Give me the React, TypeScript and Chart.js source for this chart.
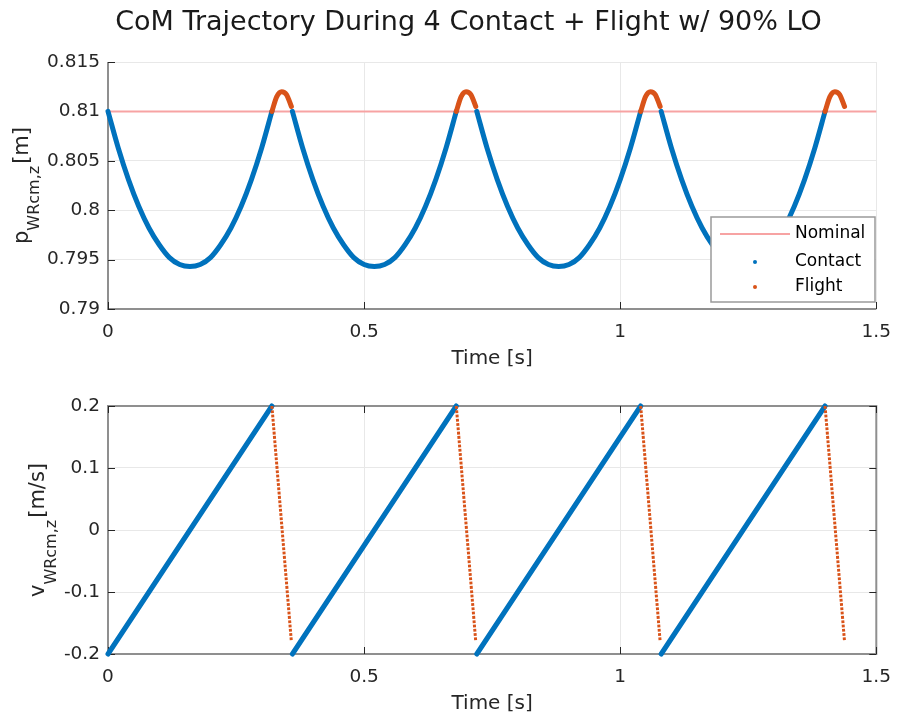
import React, { useEffect, useRef } from "react";
import { Chart, registerables } from "chart.js";

Chart.register(...registerables);

const FONT = "'DejaVu Sans', 'Liberation Sans', sans-serif";
const BLUE = "#0072BD";
const ORANGE = "#D95319";
const NOMINAL_C = "#f7a3a3";
const GRID = "#e8e8e8";
const AXIS = "#8f8f8f";
const TEXT = "#262626";

const TITLE = "CoM Trajectory During 4 Contact + Flight w/ 90% LO";
const X_LABEL = "Time [s]";
const LEGEND_LABELS = ["Nominal", "Contact", "Flight"];

// start time of each contact + flight cycle
const cycleStarts = [0, 0.36, 0.72, 1.08];

// position during contact (offsets from cycle start)
const contactOffsets = [0, 0.02, 0.04, 0.06, 0.08, 0.1, 0.12, 0.14, 0.16, 0.18, 0.2, 0.22, 0.24, 0.26, 0.28, 0.3, 0.32];
const contactPos = [0.81, 0.8063, 0.8031, 0.8004, 0.7982, 0.7965, 0.7952, 0.7945, 0.7943, 0.7945, 0.7952, 0.7965, 0.7982, 0.8004, 0.8031, 0.8063, 0.81];

// position during flight
const flightOffsets = [0.32, 0.3295, 0.339, 0.3485, 0.358];
const flightPos = [0.81, 0.8115, 0.812, 0.8117, 0.8105];

// velocity during contact / flight
const contactVelOffsets = [0, 0.32];
const contactVel = [-0.2, 0.2];
const flightVelOffsets = [0.32, 0.358];
const flightVel = [0.2, -0.18];

const nominalTimes = [0, 1.5];
const nominalPos = [0.81, 0.81];

const timeTicks = [0, 0.5, 1, 1.5];
const timeTickLabels = ["0", "0.5", "1", "1.5"];
const posTicks = [0.79, 0.795, 0.8, 0.805, 0.81, 0.815];
const posTickLabels = ["0.79", "0.795", "0.8", "0.805", "0.81", "0.815"];
const velTicks = [-0.2, -0.1, 0, 0.1, 0.2];
const velTickLabels = ["-0.2", "-0.1", "0", "0.1", "0.2"];

type YLab = { main: string; sub: string; unit: string; base: number; drop: number };

function pts(start: number, offs: number[], vals: number[]) {
  return offs.map((o, i) => ({ x: +(start + o).toFixed(5), y: vals[i] }));
}

function labelFor(ticks: number[], labels: string[]) {
  return (v: any) => {
    const i = ticks.findIndex((t) => Math.abs(t - Number(v)) < 1e-9);
    return i >= 0 ? labels[i] : "";
  };
}

function drawYLabel(ctx: CanvasRenderingContext2D, area: any, lab: YLab) {
  const cy = (area.top + area.bottom) / 2;
  const mainF = `21px ${FONT}`;
  const subF = `16px ${FONT}`;
  ctx.save();
  ctx.font = mainF;
  const w1 = ctx.measureText(lab.main).width;
  const w3 = ctx.measureText(lab.unit).width;
  ctx.font = subF;
  const w2 = ctx.measureText(lab.sub).width;
  const gap = 2;
  const W = w1 + w2 + gap + w3;
  ctx.translate(lab.base, cy);
  ctx.rotate(-Math.PI / 2);
  ctx.fillStyle = TEXT;
  ctx.textBaseline = "alphabetic";
  ctx.textAlign = "left";
  let u = -W / 2;
  ctx.font = mainF;
  ctx.fillText(lab.main, u, 0);
  u += w1;
  ctx.font = subF;
  ctx.fillText(lab.sub, u, lab.drop);
  u += w2 + gap;
  ctx.font = mainF;
  ctx.fillText(lab.unit, u, 0);
  ctx.restore();
}

function matlabPlugin(box: boolean, ylab: YLab, extra?: (chart: any) => void) {
  return {
    id: "matlabAxes",
    beforeDatasetsDraw(chart: any) {
      const { ctx, chartArea: a } = chart;
      const xs = chart.scales.x;
      const ys = chart.scales.y;
      ctx.save();
      ctx.strokeStyle = AXIS;
      ctx.lineWidth = 2;
      ctx.beginPath();
      if (box) {
        ctx.rect(a.left, a.top, a.right - a.left, a.bottom - a.top);
      } else {
        ctx.moveTo(a.left, a.top);
        ctx.lineTo(a.left, a.bottom);
        ctx.lineTo(a.right, a.bottom);
      }
      ctx.stroke();
      ctx.strokeStyle = TEXT;
      ctx.lineWidth = 1;
      ctx.beginPath();
      xs.ticks.forEach((t: any) => {
        const px = Math.round(xs.getPixelForValue(t.value)) + 0.5;
        ctx.moveTo(px, a.bottom);
        ctx.lineTo(px, a.bottom - 7);
        if (box) {
          ctx.moveTo(px, a.top);
          ctx.lineTo(px, a.top + 7);
        }
      });
      ys.ticks.forEach((t: any) => {
        const py = Math.round(ys.getPixelForValue(t.value)) + 0.5;
        ctx.moveTo(a.left, py);
        ctx.lineTo(a.left + 7, py);
        if (box) {
          ctx.moveTo(a.right, py);
          ctx.lineTo(a.right - 7, py);
        }
      });
      ctx.stroke();
      ctx.restore();
    },
    afterDraw(chart: any) {
      const { ctx, chartArea: a } = chart;
      ctx.save();
      ctx.font = `20px ${FONT}`;
      ctx.fillStyle = TEXT;
      ctx.textAlign = "center";
      ctx.textBaseline = "middle";
      ctx.fillText(X_LABEL, (a.left + a.right) / 2, a.bottom + 50);
      ctx.restore();
      drawYLabel(ctx, a, ylab);
      if (extra) extra(chart);
    },
  };
}

function drawTitleAndLegend(chart: any) {
  const ctx: CanvasRenderingContext2D = chart.ctx;
  ctx.save();
  ctx.font = `27px ${FONT}`;
  ctx.fillStyle = "#1a1a1a";
  ctx.textAlign = "center";
  ctx.textBaseline = "alphabetic";
  ctx.fillText(TITLE, 468.5, 30);

  // legend box
  const bx = 711, by = 217, bw = 164, bh = 85;
  ctx.fillStyle = "#ffffff";
  ctx.fillRect(bx, by, bw, bh);
  ctx.strokeStyle = "#9a9a9a";
  ctx.lineWidth = 1.5;
  ctx.strokeRect(bx, by, bw, bh);

  const rows = [234, 262, 287];
  ctx.strokeStyle = NOMINAL_C;
  ctx.lineWidth = 2;
  ctx.beginPath();
  ctx.moveTo(720, rows[0]);
  ctx.lineTo(790, rows[0]);
  ctx.stroke();
  ctx.fillStyle = BLUE;
  ctx.beginPath();
  ctx.arc(755, rows[1], 2, 0, Math.PI * 2);
  ctx.fill();
  ctx.fillStyle = ORANGE;
  ctx.beginPath();
  ctx.arc(755, rows[2], 2, 0, Math.PI * 2);
  ctx.fill();

  ctx.font = `17px ${FONT}`;
  ctx.fillStyle = "#000";
  ctx.textAlign = "left";
  ctx.textBaseline = "middle";
  LEGEND_LABELS.forEach((l, i) => ctx.fillText(l, 795, rows[i]));
  ctx.restore();
}

function scaleOpts(
  min: number,
  max: number,
  ticks: number[],
  labels: string[],
  axis: "x" | "y",
  size: number
) {
  return {
    type: "linear" as const,
    min,
    max,
    afterBuildTicks: (s: any) => {
      s.ticks = ticks.map((v) => ({ value: v }));
    },
    afterFit: (s: any) => {
      if (axis === "x") s.height = size;
      else s.width = size;
    },
    grid: { color: GRID, lineWidth: 1, drawTicks: false },
    border: { display: false },
    ticks: {
      autoSkip: false,
      maxRotation: 0,
      padding: axis === "x" ? 12 : 8,
      color: TEXT,
      font: { family: FONT, size: 18.5 },
      callback: labelFor(ticks, labels),
    },
  };
}

export default function App() {
  const r1 = useRef<HTMLCanvasElement>(null);
  const r2 = useRef<HTMLCanvasElement>(null);

  useEffect(() => {
    const posSets: any[] = [
      {
        label: "Nominal",
        data: nominalTimes.map((t, i) => ({ x: t, y: nominalPos[i] })),
        borderColor: NOMINAL_C,
        borderWidth: 2,
        pointRadius: 0,
        order: 3,
      },
    ];
    const velSets: any[] = [];
    cycleStarts.forEach((s) => {
      posSets.push({
        label: "Contact",
        data: pts(s, contactOffsets, contactPos),
        borderColor: BLUE,
        borderWidth: 5,
        pointRadius: 0,
        cubicInterpolationMode: "monotone",
        borderCapStyle: "round",
        borderJoinStyle: "round",
        order: 2,
      });
      posSets.push({
        label: "Flight",
        data: pts(s, flightOffsets, flightPos),
        borderColor: ORANGE,
        borderWidth: 5,
        pointRadius: 0,
        cubicInterpolationMode: "monotone",
        borderCapStyle: "round",
        borderJoinStyle: "round",
        order: 1,
      });
      velSets.push({
        label: "Contact",
        data: pts(s, contactVelOffsets, contactVel),
        borderColor: BLUE,
        borderWidth: 5,
        pointRadius: 0,
        borderCapStyle: "round",
        order: 2,
      });
      velSets.push({
        label: "Flight",
        data: pts(s, flightVelOffsets, flightVel),
        borderColor: ORANGE,
        borderWidth: 3,
        borderDash: [2.8, 1.5],
        pointRadius: 0,
        order: 1,
      });
    });

    const common = {
      animation: false as const,
      responsive: false,
      devicePixelRatio: 1,
      events: [] as any[],
      plugins: { legend: { display: false }, tooltip: { enabled: false } },
    };

    const c1 = new Chart(r1.current!, {
      type: "line",
      data: { datasets: posSets },
      options: {
        ...common,
        clip: 4 as any,
        layout: { padding: { top: 62, right: 20, left: 0, bottom: 0 } },
        scales: {
          x: scaleOpts(0, 1.5, timeTicks, timeTickLabels, "x", 71),
          y: scaleOpts(0.79, 0.815, posTicks, posTickLabels, "y", 108),
        },
      } as any,
      plugins: [
        matlabPlugin(false, { main: "p", sub: "WRcm,z", unit: "[m]", base: 28, drop: 11 }, drawTitleAndLegend),
      ],
    });

    const c2 = new Chart(r2.current!, {
      type: "line",
      data: { datasets: velSets },
      options: {
        ...common,
        clip: 4 as any,
        layout: { padding: { top: 26, right: 20, left: 0, bottom: 0 } },
        scales: {
          x: scaleOpts(0, 1.5, timeTicks, timeTickLabels, "x", 67),
          y: scaleOpts(-0.2, 0.2, velTicks, velTickLabels, "y", 108),
        },
      } as any,
      plugins: [matlabPlugin(true, { main: "v", sub: "WRcm,z", unit: "[m/s]", base: 44, drop: 12 })],
    });

    return () => {
      c1.destroy();
      c2.destroy();
    };
  }, []);

  return (
    <div style={{ position: "absolute", left: 0, top: 0, width: 903, height: 721, background: "#ffffff" }}>
      <canvas
        ref={r1}
        width={903}
        height={380}
        style={{ position: "absolute", left: 0, top: 0, width: 903, height: 380 }}
      />
      <canvas
        ref={r2}
        width={903}
        height={341}
        style={{ position: "absolute", left: 0, top: 380, width: 903, height: 341 }}
      />
    </div>
  );
}
